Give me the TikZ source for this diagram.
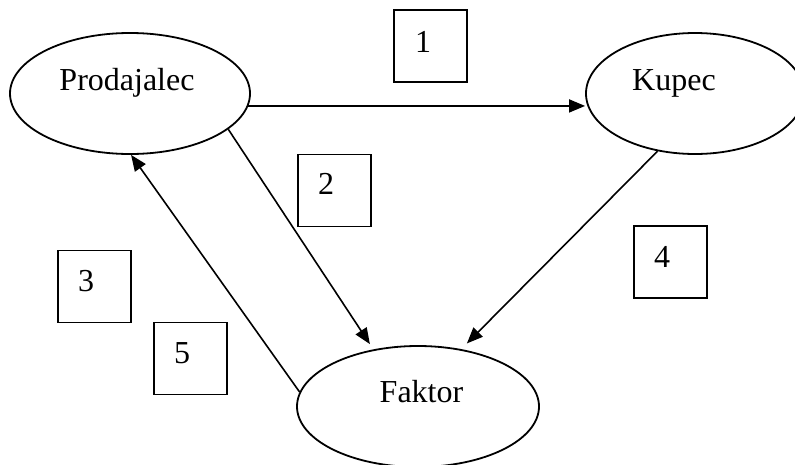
\documentclass[tikz,border=0pt]{standalone}
\usepackage{fontspec}
\setmainfont{Liberation Serif}
\usetikzlibrary{shapes.geometric,arrows.meta}
\begin{document}
\begin{tikzpicture}[x=1pt,y=-1pt,
  oval/.style={draw, ellipse, line width=1.8pt, inner sep=0pt},
  box/.style={draw, rectangle, line width=1.5pt, minimum width=73pt, minimum height=72pt, inner sep=0pt},
  txt/.style={font=\fontsize{32}{36}\selectfont, inner sep=0pt, anchor=base},
  flow/.style={line width=1.6pt, -{Triangle[length=16pt,width=13pt]}}]
\useasboundingbox (0,0) rectangle (795,464);
\clip (0,0) rectangle (795,464);
% parties
\node[oval, minimum width=240pt, minimum height=121pt] (prod) at (130,93.5) {};
\node[oval, minimum width=218pt, minimum height=121pt] (kup) at (695,93.5) {};
\node[oval, minimum width=242pt, minimum height=121pt] (fak) at (418,406.5) {};
\node[txt] (tprod) at (127,90) {Prodajalec};
\node[txt] (tkup) at (674,90) {Kupec};
\node[txt] (tfak) at (421.5,402) {Faktor};
% step boxes
\node[box] (b1) at (430.5,46) {};
\node[box] (b2) at (334.5,190.5) {};
\node[box] (b3) at (94.5,286.5) {};
\node[box] (b4) at (670.5,262) {};
\node[box] (b5) at (190.5,358.5) {};
\node[txt] (n1) at (423,52) {1};
\node[txt] (n2) at (326,194) {2};
\node[txt] (n3) at (86,291) {3};
\node[txt] (n4) at (662,267) {4};
\node[txt] (n5) at (182,363) {5};
% flows
\draw[flow] (prod.-6) -- (prod.-6 -| kup.west);
\draw[flow, shorten >=6.3pt] (prod.-20.3) -- (fak.128.3);
\draw[flow, shorten >=8pt] (kup.237.7) -- (fak.53.3);
\draw[flow] (fak.173.6) -- (prod.-89);
\end{tikzpicture}
\end{document}
